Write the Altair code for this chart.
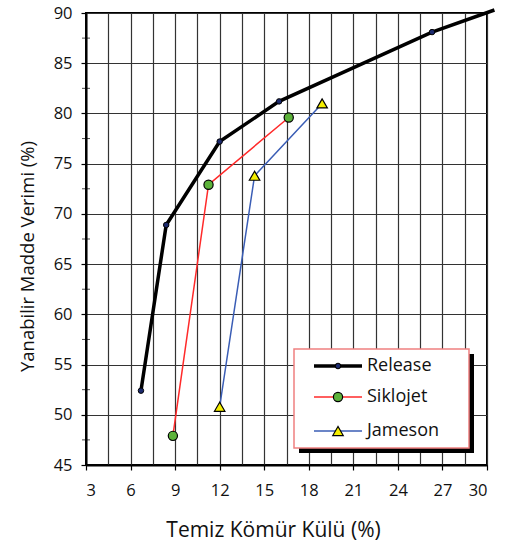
import altair as alt
import pandas as pd

# ---- data ----
release_x = [6.7, 8.4, 12.0, 16.0, 26.3, 30.5]
release_y = [52.4, 68.9, 77.2, 81.2, 88.1, 90.3]
siklojet_x = [8.85, 11.25, 16.65]
siklojet_y = [47.9, 72.9, 79.6]
jameson_x = [12.0, 14.35, 18.9]
jameson_y = [50.8, 73.8, 81.0]

series_names = ["Release", "Siklojet", "Jameson"]
x_grid = [3 + 1.5 * i for i in range(19)]
y_ticks = [45, 50, 55, 60, 65, 70, 75, 80, 85, 90]
y_minor = [47.5, 52.5, 57.5, 62.5, 67.5, 72.5, 77.5, 82.5, 87.5]

FONT = "Open Sans"

df_rel = pd.DataFrame({"x": release_x, "y": release_y})
df_sik = pd.DataFrame({"x": siklojet_x, "y": siklojet_y})
df_jam = pd.DataFrame({"x": jameson_x, "y": jameson_y})
df_minor = pd.DataFrame({"y": y_minor})
one = pd.DataFrame({"a": [0]})

xs = alt.Scale(domain=[3, 30], nice=False, zero=False)
ys = alt.Scale(domain=[45, 90], nice=False, zero=False)

xaxis = alt.Axis(
    values=x_grid,
    grid=True, gridColor="#333333", gridWidth=1.2,
    labelExpr="datum.value % 3 === 0 ? datum.label : ''",
    tickOpacity={"condition": {"test": "datum.value % 3 === 0", "value": 1}, "value": 0},
    tickSize=5, tickColor="black", tickWidth=1.2,
    domainColor="black", domainWidth=2,
    labelFont=FONT, labelFontSize=16.5, labelColor="#111", labelPadding=12,
    title="Temiz Kömür Külü (%)", titleFont=FONT, titleFontSize=21,
    titleFontWeight="normal", titleColor="#111",
    titleX=187, titleY=71, titleBaseline="alphabetic", titleAlign="center",
)
yaxis = alt.Axis(
    values=y_ticks,
    grid=True, gridColor="#333333", gridWidth=1.2,
    tickSize=5, tickColor="black", tickWidth=1.2,
    domainColor="black", domainWidth=2,
    labelFont=FONT, labelFontSize=16.5, labelColor="#111", labelPadding=9,
    title="Yanabilir Madde Verimi (%)", titleFont=FONT, titleFontSize=18.5,
    titleFontWeight="normal", titleColor="#111",
    titleX=-59, titleY=243, titleAlign="center", titleBaseline="middle", titleAngle=270,
)

X = alt.X("x:Q", scale=xs, axis=xaxis)
Y = alt.Y("y:Q", scale=ys, axis=yaxis)

minor = alt.Chart(df_minor).mark_tick(color="black", size=8, thickness=1).encode(
    y=alt.Y("y:Q", scale=ys), x=alt.value(0)
)

rel_line = alt.Chart(df_rel).mark_line(color="black", strokeWidth=3.5, clip=False).encode(x=X, y=Y)
rel_pts = alt.Chart(df_rel).transform_filter("datum.x <= 30").mark_point(
    shape="circle", filled=True, size=30, fill="#1c2a6e", stroke="black", strokeWidth=1, opacity=1
).encode(x=X, y=Y)

sik_line = alt.Chart(df_sik).mark_line(color="#ff2a2a", strokeWidth=1.5).encode(x=X, y=Y)
sik_pts = alt.Chart(df_sik).mark_point(
    shape="circle", filled=True, size=85, fill="#5cb23a", stroke="black", strokeWidth=1.2, opacity=1
).encode(x=X, y=Y)

jam_line = alt.Chart(df_jam).mark_line(color="#3a5db5", strokeWidth=1.5).encode(x=X, y=Y)
jam_pts = alt.Chart(df_jam).mark_point(
    shape="triangle-up", filled=True, size=110, fill="#f4ee00", stroke="black", strokeWidth=1.2, opacity=1
).encode(x=X, y=Y)

# ---- legend (drawn inside the plot area) ----
shadow = alt.Chart(one).mark_rect(fill="black").encode(
    x=alt.value(213), x2=alt.value(388), y=alt.value(341), y2=alt.value(440)
)
box = alt.Chart(one).mark_rect(fill="white", stroke="#f08080", strokeWidth=1.5).encode(
    x=alt.value(208), x2=alt.value(383), y=alt.value(336), y2=alt.value(435)
)
legend_layers = [shadow, box]
row_y = [353, 384, 418]
styles = [
    dict(color="black", width=3.5, shape="circle", size=30, fill="#1c2a6e"),
    dict(color="#ff2a2a", width=1.5, shape="circle", size=85, fill="#5cb23a"),
    dict(color="#3a5db5", width=1.5, shape="triangle-up", size=110, fill="#f4ee00"),
]
for name, ry, st in zip(series_names, row_y, styles):
    legend_layers.append(alt.Chart(one).mark_rule(color=st["color"], strokeWidth=st["width"]).encode(
        x=alt.value(228), x2=alt.value(276), y=alt.value(ry)))
    legend_layers.append(alt.Chart(one).mark_point(
        shape=st["shape"], filled=True, size=st["size"], fill=st["fill"], stroke="black",
        strokeWidth=1.2, opacity=1).encode(x=alt.value(252), y=alt.value(ry)))
    legend_layers.append(alt.Chart(one).mark_text(
        align="left", baseline="middle", font=FONT, fontSize=18, color="#111").encode(
        x=alt.value(281), y=alt.value(ry), text=alt.value(name)))

chart = alt.layer(
    minor, rel_line, sik_line, jam_line, rel_pts, sik_pts, jam_pts, *legend_layers
).properties(
    width=401, height=452,
    autosize=alt.AutoSizeParams(type="none"),
    padding={"left": 86, "top": 13, "right": 18, "bottom": 80},
).configure_view(stroke="black", strokeWidth=2)

chart.save("out.html", embed_options={"renderer": "svg", "actions": False})
